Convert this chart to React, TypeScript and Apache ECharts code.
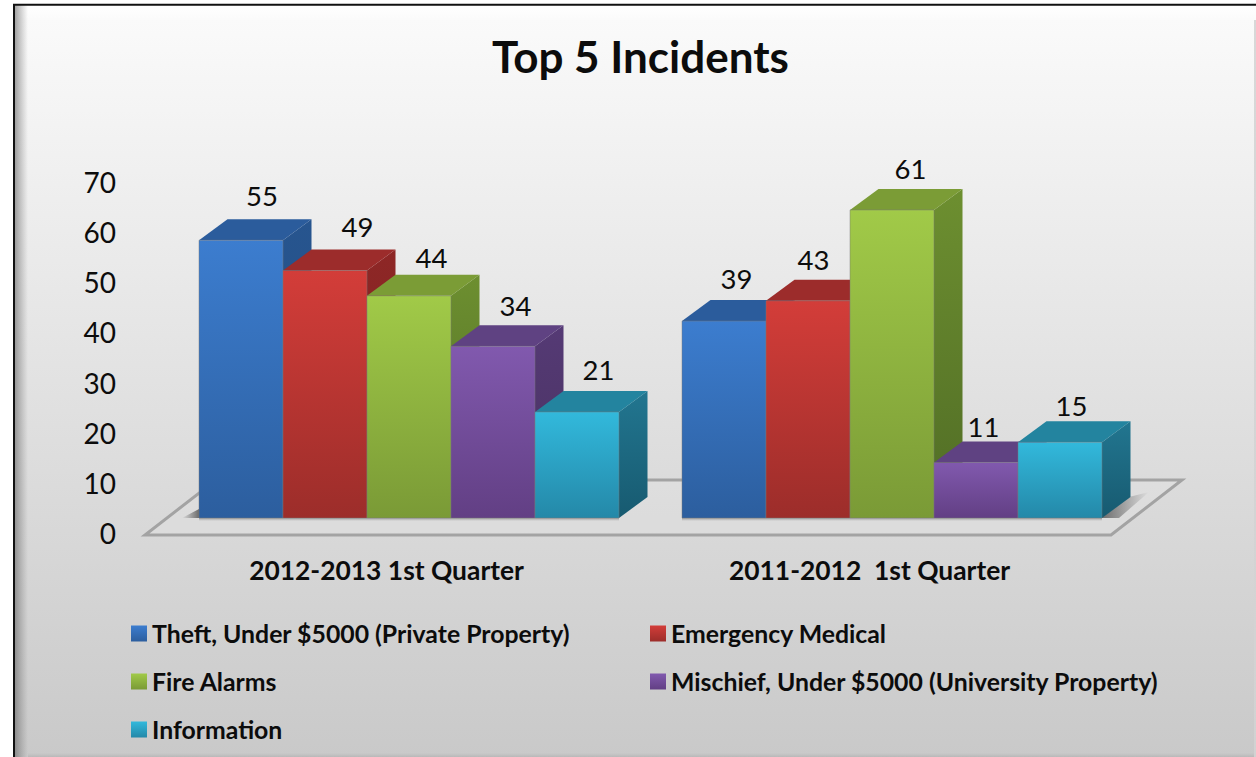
import React, { useEffect, useRef } from "react";
import * as echarts from "echarts";

const categories = ["2012-2013 1st Quarter", "2011-2012  1st Quarter"];
const seriesNames = [
  "Theft, Under $5000 (Private Property)",
  "Emergency Medical",
  "Fire Alarms",
  "Mischief, Under $5000 (University Property)",
  "Information",
];
const theft = [55, 39];
const medical = [49, 43];
const fire = [44, 61];
const mischief = [34, 11];
const information = [21, 15];
const allValues = [theft, medical, fire, mischief, information];
const yTicks = [0, 10, 20, 30, 40, 50, 60, 70];

const FONT = "Lato";
const front = [
  ["#3c7dcf", "#2c5e9e"],
  ["#d33d39", "#9c2d2a"],
  ["#a1ca48", "#7a9a36"],
  ["#8159ae", "#623f84"],
  ["#32b9dc", "#2488a8"],
];
const topFace = ["#2b5c9c", "#9c2c2b", "#7b9c36", "#5f4282", "#23849f"];
const sideFace = [
  ["#27558f", "#234c80"],
  ["#8e2726", "#7a2120"],
  ["#6d8f30", "#506c25"],
  ["#553a75", "#48315f"],
  ["#227690", "#175a70"],
];
const DEPTH_X = 28.5;
const DEPTH_Y = 21;
const BAR_W = 84;
// per-label nudges of the hand-placed data labels, [dx, dy] from the top-back edge centre
const labelNudge = [
  [[-7.5, -24], [-16, -22]],
  [[4, -23], [-23, -20]],
  [[-6, -17], [-10, -20]],
  [[-6, -20], [-21, -15]],
  [[-7, -21], [-17, -16]],
];
const grad = (a: string, b: string) =>
  new echarts.graphic.LinearGradient(0, 0, 0, 1, [
    { offset: 0, color: a },
    { offset: 1, color: b },
  ]);
const hgrad = (a: string, b: string) =>
  new echarts.graphic.LinearGradient(0, 0, 1, 0, [
    { offset: 0, color: a },
    { offset: 1, color: b },
  ]);

export default function App() {
  const ref = useRef<HTMLDivElement>(null);
  useEffect(() => {
    document.body.style.margin = "0";
    document.body.style.background = "#ffffff";
    const chart = echarts.init(ref.current!, undefined, { renderer: "svg" });

    const barSeries = allValues.map((vals, s) => ({
      type: "custom",
      name: seriesNames[s],
      xAxisIndex: 1,
      yAxisIndex: 1,
      z: 5 + s,
      clip: false,
      itemStyle: { color: grad(front[s][0], front[s][1]) },
      data: vals.map((v, c) => [c, v]),
      encode: { x: 0, y: 1 },
      renderItem: (params: any, api: any) => {
        const c = api.value(0);
        const v = api.value(1);
        const top = api.coord([c, v]);
        const base = api.coord([c, 0]);
        const x0 = top[0] + (s - 2.5) * BAR_W;
        const x1 = x0 + BAR_W;
        const edge = { stroke: "rgba(120,120,120,0.45)", lineWidth: 1 };
        const [nx, ny] = labelNudge[s][params.dataIndex];
        return {
          type: "group",
          children: [
            {
              type: "rect",
              shape: { x: x0, y: base[1], width: BAR_W, height: 3 },
              style: { fill: grad("rgba(90,90,90,0.45)", "rgba(90,90,90,0)") },
            },
            {
              type: "polygon",
              shape: { points: [[x1, top[1]], [x1 + DEPTH_X, top[1] - DEPTH_Y], [x1 + DEPTH_X, base[1] - DEPTH_Y], [x1, base[1]]] },
              style: { fill: grad(sideFace[s][0], sideFace[s][1]) },
            },
            {
              type: "polygon",
              shape: { points: [[x0, top[1]], [x0 + DEPTH_X, top[1] - DEPTH_Y], [x1 + DEPTH_X, top[1] - DEPTH_Y], [x1, top[1]]] },
              style: { fill: topFace[s] },
            },
            {
              type: "rect",
              shape: { x: x0, y: top[1], width: BAR_W, height: base[1] - top[1] },
              style: { fill: grad(front[s][0], front[s][1]), ...edge },
            },
            {
              type: "text",
              z2: 50,
              style: {
                x: x0 + BAR_W / 2 + DEPTH_X + nx,
                y: top[1] - DEPTH_Y + ny,
                text: String(v),
                align: "center",
                verticalAlign: "middle",
                fill: "#0c0c0c",
                font: `400 27.5px ${FONT}`,
              },
            },
          ],
        };
      },
    }));

    const floorSeries = {
      type: "custom",
      name: "floor",
      xAxisIndex: 0,
      yAxisIndex: 0,
      z: 2,
      silent: true,
      clip: false,
      data: [[0, 0]],
      renderItem: (params: any) => {
        const { x, y, width } = params.coordSys;
        const b = y + params.coordSys.height + 2;
        const r = x + width;
        return {
          type: "group",
          children: [
            {
              type: "polygon",
              shape: { points: [[x, b], [r, b], [r + 71, b - 55], [x + 71, b - 55]] },
              style: { fill: "rgba(255,255,255,0.1)", stroke: "#a3a3a3", lineWidth: 3, lineJoin: "miter" },
            },
            {
              type: "polygon",
              shape: { points: [[x + 37, b - 17], [x + 54, b - 17], [x + 54, b - 26]] },
              style: { fill: hgrad("rgba(70,70,70,0)", "rgba(70,70,70,0.75)") },
            },
            {
              type: "polygon",
              shape: { points: [[r - 10, b - 17], [r + 8, b - 17], [r + 38, b - 43], [r + 18, b - 38]] },
              style: { fill: hgrad("rgba(70,70,70,0.75)", "rgba(70,70,70,0)") },
            },
          ],
        };
      },
    };

    const legendPos = [
      [131, 621],
      [650, 621],
      [131, 669],
      [650, 669],
      [131, 717],
    ];

    chart.setOption({
      animation: false,
      graphic: [
        {
          type: "rect",
          z: -10,
          shape: { x: 14, y: 4, width: 1242, height: 753 },
          style: { fill: grad("#fbfbfb", "#c9c9c9") },
        },
        {
          type: "rect",
          z: -9,
          shape: { x: 14, y: 5, width: 1242, height: 15 },
          style: { fill: grad("#ffffff", "rgba(255,255,255,0.2)") },
        },
        {
          type: "rect",
          z: -9,
          shape: { x: 28, y: 753, width: 1228, height: 4 },
          style: { fill: grad("rgba(120,120,120,0)", "rgba(120,120,120,0.2)") },
        },
        {
          type: "rect",
          z: -9,
          shape: { x: 1254, y: 20, width: 2, height: 737 },
          style: { fill: grad("#d8d8d8", "#d2d2d2") },
        },
        {
          type: "rect",
          z: -9,
          shape: { x: 14, y: 5, width: 14, height: 752 },
          style: { fill: hgrad("rgba(90,90,90,0.6)", "rgba(120,120,120,0)") },
        },
        {
          type: "polyline",
          z: -8,
          shape: { points: [[14, 757], [14, 4.7], [1256, 4.7]] },
          style: { fill: "none", stroke: "#111111", lineWidth: 2 },
        },
      ],
      title: {
        text: "Top 5 Incidents",
        left: 635.5,
        top: 29,
        textAlign: "center",
        textStyle: { fontFamily: FONT, fontWeight: 700, fontSize: 44, color: "#0c0c0c" },
      },
      legend: seriesNames.map((n, i) => ({
        data: [n],
        left: legendPos[i][0],
        top: legendPos[i][1],
        itemWidth: 16,
        itemHeight: 16,
        itemGap: 7,
        padding: 0,
        icon: "rect",
        selectedMode: false,
        textStyle: { fontFamily: FONT, fontWeight: 700, fontSize: 24.8, color: "#0c0c0c" },
      })),
      grid: [
        { left: 145, width: 966, top: 182, height: 351 },
        { left: 167.5, width: 966, top: 164.5, height: 353.5 },
      ],
      xAxis: [
        {
          type: "category",
          gridIndex: 0,
          data: categories,
          axisLine: { show: false },
          axisTick: { show: false },
          axisLabel: {
            margin: 23.5,
            fontFamily: FONT,
            fontWeight: 700,
            fontSize: 26.4,
            color: "#0c0c0c",
          },
        },
        { type: "category", gridIndex: 1, data: categories, show: false },
      ],
      yAxis: [
        {
          type: "value",
          gridIndex: 0,
          min: yTicks[0],
          max: yTicks[yTicks.length - 1],
          interval: 10,
          axisLine: { show: false },
          axisTick: { show: false },
          splitLine: { show: false },
          axisLabel: { margin: 29, fontFamily: FONT, fontSize: 28, color: "#0c0c0c" },
        },
        { type: "value", gridIndex: 1, min: 0, max: 70, interval: 10, show: false, splitLine: { show: false } },
      ],
      series: [floorSeries, ...barSeries],
    });
    return () => chart.dispose();
  }, []);
  return <div ref={ref} style={{ position: "absolute", left: 0, top: 0, width: 1256, height: 757 }} />;
}
